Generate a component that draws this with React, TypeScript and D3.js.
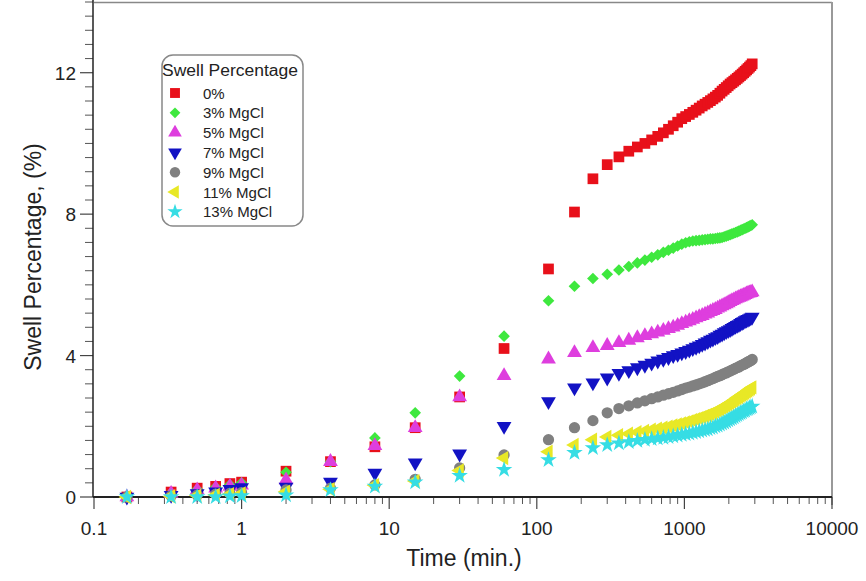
import React, { useEffect, useRef } from "react";
import * as d3 from "d3";

// time of each reading (min.)
const earlyTimes = [0.167, 0.333, 0.5, 0.667, 0.833, 1, 2, 4, 8, 15, 30, 60];
const hourlyTimes = [
  120, 180, 240, 300, 360, 420, 480, 540, 600, 660, 720, 780, 840, 900, 960, 1020,
  1080, 1140, 1200, 1260, 1320, 1380, 1440, 1500, 1560, 1620, 1680, 1740, 1800, 1860,
  1920, 1980, 2040, 2100, 2160, 2220, 2280, 2340, 2400, 2460, 2520, 2580, 2640, 2700,
  2760, 2820, 2880,
];
const times = [...earlyTimes, ...hourlyTimes];

const seriesNames = ["0%", "3% MgCl", "5% MgCl", "7% MgCl", "9% MgCl", "11% MgCl", "13% MgCl"];

const swell0 = [
  0, 0.14, 0.25, 0.3, 0.38, 0.42, 0.73, 1.0, 1.42, 1.96, 2.83, 4.2,
  6.45, 8.06, 9.0, 9.4, 9.62, 9.78, 9.9, 10.0, 10.1, 10.2, 10.3, 10.4, 10.5, 10.6, 10.7, 10.76,
  10.82, 10.88, 10.94, 11.0, 11.06, 11.11, 11.16, 11.21, 11.26, 11.31, 11.36, 11.42, 11.48, 11.53,
  11.58, 11.63, 11.68, 11.72, 11.76, 11.8, 11.84, 11.88, 11.92, 11.96, 12.0, 12.04, 12.08, 12.12,
  12.16, 12.2, 12.25,
];
const swell3 = [
  0, 0.12, 0.22, 0.28, 0.35, 0.4, 0.7, 1.0, 1.67, 2.38, 3.42, 4.55,
  5.55, 5.96, 6.18, 6.3, 6.42, 6.52, 6.62, 6.7, 6.78, 6.85, 6.92, 6.98, 7.04, 7.1, 7.15, 7.19,
  7.22, 7.24, 7.25, 7.26, 7.27, 7.28, 7.29, 7.3, 7.3, 7.31, 7.32, 7.33, 7.34, 7.36,
  7.38, 7.4, 7.42, 7.44, 7.46, 7.48, 7.5, 7.52, 7.54, 7.56, 7.58, 7.6, 7.62, 7.64,
  7.66, 7.68, 7.7,
];
const swell5 = [
  0, 0.1, 0.2, 0.25, 0.3, 0.33, 0.48, 1.0, 1.45, 1.96, 2.83, 3.43,
  3.9, 4.08, 4.22, 4.28, 4.36, 4.43, 4.5, 4.56, 4.61, 4.66, 4.71, 4.76, 4.8, 4.85, 4.9, 4.94,
  4.98, 5.02, 5.06, 5.1, 5.13, 5.17, 5.2, 5.24, 5.27, 5.3, 5.34, 5.37, 5.4, 5.43,
  5.46, 5.49, 5.52, 5.55, 5.57, 5.6, 5.62, 5.64, 5.66, 5.68, 5.7, 5.72, 5.74, 5.76,
  5.77, 5.78, 5.8,
];
const swell7 = [
  0, 0.05, 0.1, 0.15, 0.22, 0.27, 0.28, 0.42, 0.68, 0.97, 1.22, 2.0,
  2.7, 3.09, 3.23, 3.37, 3.5, 3.58, 3.66, 3.73, 3.79, 3.85, 3.9, 3.95, 4.0, 4.04, 4.08, 4.12,
  4.16, 4.2, 4.24, 4.28, 4.32, 4.36, 4.4, 4.44, 4.47, 4.51, 4.54, 4.58, 4.61, 4.65,
  4.68, 4.71, 4.74, 4.77, 4.8, 4.83, 4.86, 4.88, 4.91, 4.94, 4.96, 4.99, 5.01, 5.03,
  5.05, 5.07, 5.09,
];
const swell9 = [
  0, 0.03, 0.05, 0.08, 0.1, 0.12, 0.2, 0.25, 0.34, 0.5, 0.82, 1.19,
  1.62, 1.96, 2.16, 2.38, 2.5, 2.58, 2.66, 2.72, 2.78, 2.83, 2.88, 2.92, 2.96, 3.0, 3.04, 3.08,
  3.11, 3.14, 3.17, 3.2, 3.23, 3.26, 3.29, 3.32, 3.35, 3.38, 3.41, 3.43, 3.46, 3.49,
  3.51, 3.54, 3.56, 3.59, 3.61, 3.64, 3.66, 3.68, 3.71, 3.73, 3.75, 3.77, 3.8, 3.82,
  3.84, 3.86, 3.89,
];
const swell11 = [
  0, 0.02, 0.04, 0.06, 0.08, 0.1, 0.15, 0.22, 0.33, 0.45, 0.75, 1.1,
  1.28, 1.47, 1.62, 1.7, 1.75, 1.79, 1.83, 1.87, 1.9, 1.93, 1.96, 1.99, 2.02, 2.05, 2.08, 2.11,
  2.14, 2.17, 2.2, 2.23, 2.26, 2.29, 2.32, 2.35, 2.38, 2.42, 2.45, 2.48, 2.52, 2.55,
  2.59, 2.62, 2.66, 2.69, 2.73, 2.76, 2.8, 2.83, 2.86, 2.89, 2.92, 2.95, 2.98, 3.01,
  3.04, 3.07, 3.1,
];
const swell13 = [
  0, 0, 0, 0, 0.02, 0.03, 0.05, 0.2, 0.3, 0.42, 0.6, 0.77,
  1.05, 1.25, 1.39, 1.47, 1.52, 1.56, 1.59, 1.62, 1.64, 1.66, 1.68, 1.7, 1.72, 1.74, 1.76, 1.78,
  1.8, 1.82, 1.84, 1.86, 1.88, 1.9, 1.92, 1.95, 1.97, 2.0, 2.02, 2.05, 2.08, 2.11,
  2.14, 2.17, 2.2, 2.23, 2.26, 2.29, 2.32, 2.35, 2.38, 2.4, 2.43, 2.45, 2.48, 2.5,
  2.52, 2.54, 2.56,
];
const allSwell = [swell0, swell3, swell5, swell7, swell9, swell11, swell13];

const colors = ["#e8101a", "#3ee83e", "#de3ede", "#1212c4", "#808080", "#e8e826", "#36dde4"];

const xTicks = [0.1, 1, 10, 100, 1000, 10000];
const yTicks = [0, 4, 8, 12];

const W = 866;
const H = 581;
const margin = { left: 93, right: 34, top: 2, bottom: 84 };
const FONT = "'Liberation Sans', Arial, sans-serif";

// marker shape for each series
const shapes = [
  { type: d3.symbolSquare, size: 115, rotate: 0 },
  { type: d3.symbolSquare, size: 68, rotate: 45 },
  { type: d3.symbolTriangle, size: 95, rotate: 0 },
  { type: d3.symbolTriangle, size: 95, rotate: 180 },
  { type: d3.symbolCircle, size: 100, rotate: 0 },
  { type: d3.symbolTriangle, size: 90, rotate: -90 },
  { type: d3.symbolStar, size: 85, rotate: 0 },
];

export default function App() {
  const svgRef = useRef<SVGSVGElement>(null);

  useEffect(() => {
    const root = d3.select(svgRef.current);
    root.selectAll("*").remove();

    const x = d3.scaleLog().domain([0.1, 10000]).range([margin.left + 1, W - margin.right]);
    const y = d3.scaleLinear().domain([0, 14]).range([H - margin.bottom, margin.top]);

    // frame (top / right)
    root.append("line")
      .attr("x1", x(0.1)).attr("x2", x(10000))
      .attr("y1", margin.top + 0.5).attr("y2", margin.top + 0.5)
      .attr("stroke", "#888").attr("stroke-width", 1.5);
    root.append("line")
      .attr("x1", x(10000)).attr("x2", x(10000))
      .attr("y1", margin.top).attr("y2", y(0) + 8)
      .attr("stroke", "#999").attr("stroke-width", 2);

    // minor ticks on x
    const minorX: number[] = [];
    for (let e = -1; e < 4; e++) {
      for (let m = 2; m <= 9; m++) minorX.push(m * Math.pow(10, e));
    }
    const xAxis = root.append("g");
    xAxis.selectAll("line.minor").data(minorX).join("line")
      .attr("x1", d => x(d)).attr("x2", d => x(d))
      .attr("y1", y(0)).attr("y2", y(0) + 7)
      .attr("stroke", "#555").attr("stroke-width", 1);
    xAxis.selectAll("line.major").data(xTicks).join("line")
      .attr("x1", d => x(d)).attr("x2", d => x(d))
      .attr("y1", y(0)).attr("y2", y(0) + 12)
      .attr("stroke", "#444").attr("stroke-width", 1.2);
    xAxis.selectAll("text").data(xTicks).join("text")
      .attr("x", d => x(d)).attr("y", y(0) + 38)
      .attr("text-anchor", "middle")
      .style("font-family", FONT).style("font-size", "19px").attr("fill", "#222")
      .text(d => String(d));

    // minor ticks on y
    const minorY = d3.range(0, 70).map(i => i * 0.4).filter(v => v <= 14.01 && Math.abs(v / 4 - Math.round(v / 4)) > 0.01);
    const yAxis = root.append("g");
    yAxis.selectAll("line.minor").data(minorY).join("line")
      .attr("x1", margin.left - 8).attr("x2", margin.left)
      .attr("y1", d => y(d)).attr("y2", d => y(d))
      .attr("stroke", "#555").attr("stroke-width", 1);
    yAxis.selectAll("line.major").data(yTicks).join("line")
      .attr("x1", margin.left - 13).attr("x2", margin.left)
      .attr("y1", d => y(d)).attr("y2", d => y(d))
      .attr("stroke", "#444").attr("stroke-width", 1.2);
    yAxis.selectAll("text").data(yTicks).join("text")
      .attr("x", margin.left - 17).attr("y", d => y(d) + 7)
      .attr("text-anchor", "end")
      .style("font-family", FONT).style("font-size", "19px").attr("fill", "#222")
      .text(d => String(d));

    // axis lines
    root.append("line")
      .attr("x1", margin.left).attr("x2", margin.left)
      .attr("y1", 0).attr("y2", y(0))
      .attr("stroke", "#222").attr("stroke-width", 1.5);
    root.append("line")
      .attr("x1", margin.left).attr("x2", x(10000))
      .attr("y1", y(0)).attr("y2", y(0))
      .attr("stroke", "#222").attr("stroke-width", 2);

    // axis titles
    root.append("text")
      .attr("x", 464).attr("y", 566)
      .attr("text-anchor", "middle")
      .style("font-family", FONT).style("font-size", "23px").attr("fill", "#222")
      .text("Time (min.)");
    root.append("text")
      .attr("transform", "translate(41,257) rotate(-90)")
      .attr("text-anchor", "middle")
      .style("font-family", FONT).style("font-size", "23px").attr("fill", "#222")
      .text("Swell Percentage, (%)");

    // markers
    const sym = (i: number, scale = 1) =>
      d3.symbol().type(shapes[i].type).size(shapes[i].size * scale)();

    allSwell.forEach((vals, i) => {
      root.append("g")
        .selectAll("path")
        .data(vals.map((v, k) => ({ t: times[k], v })))
        .join("path")
        .attr("d", sym(i))
        .attr("transform", d => `translate(${x(d.t)},${y(d.v)}) rotate(${shapes[i].rotate})`)
        .attr("fill", colors[i]);
    });

    // legend
    const lg = root.append("g");
    lg.append("rect")
      .attr("x", 162).attr("y", 55).attr("width", 141).attr("height", 171)
      .attr("rx", 11).attr("fill", "white")
      .attr("stroke", "#888").attr("stroke-width", 1.5);
    lg.append("text")
      .attr("x", 162).attr("y", 76)
      .style("font-family", FONT).style("font-size", "16px").attr("fill", "#222")
      .attr("textLength", 136).attr("lengthAdjust", "spacingAndGlyphs")
      .text("Swell Percentage");
    seriesNames.forEach((name, i) => {
      const cy = 93 + i * 19.8;
      lg.append("path")
        .attr("d", sym(i, 0.85))
        .attr("transform", `translate(175,${cy}) rotate(${shapes[i].rotate})`)
        .attr("fill", colors[i]);
      lg.append("text")
        .attr("x", 203).attr("y", cy + 5.5)
        .style("font-family", FONT).style("font-size", "15px").attr("fill", "#222")
        .text(name);
    });
  }, []);

  return (
    <svg
      ref={svgRef}
      width={W}
      height={H}
      style={{ position: "absolute", left: 0, top: 0, background: "white" }}
    />
  );
}
